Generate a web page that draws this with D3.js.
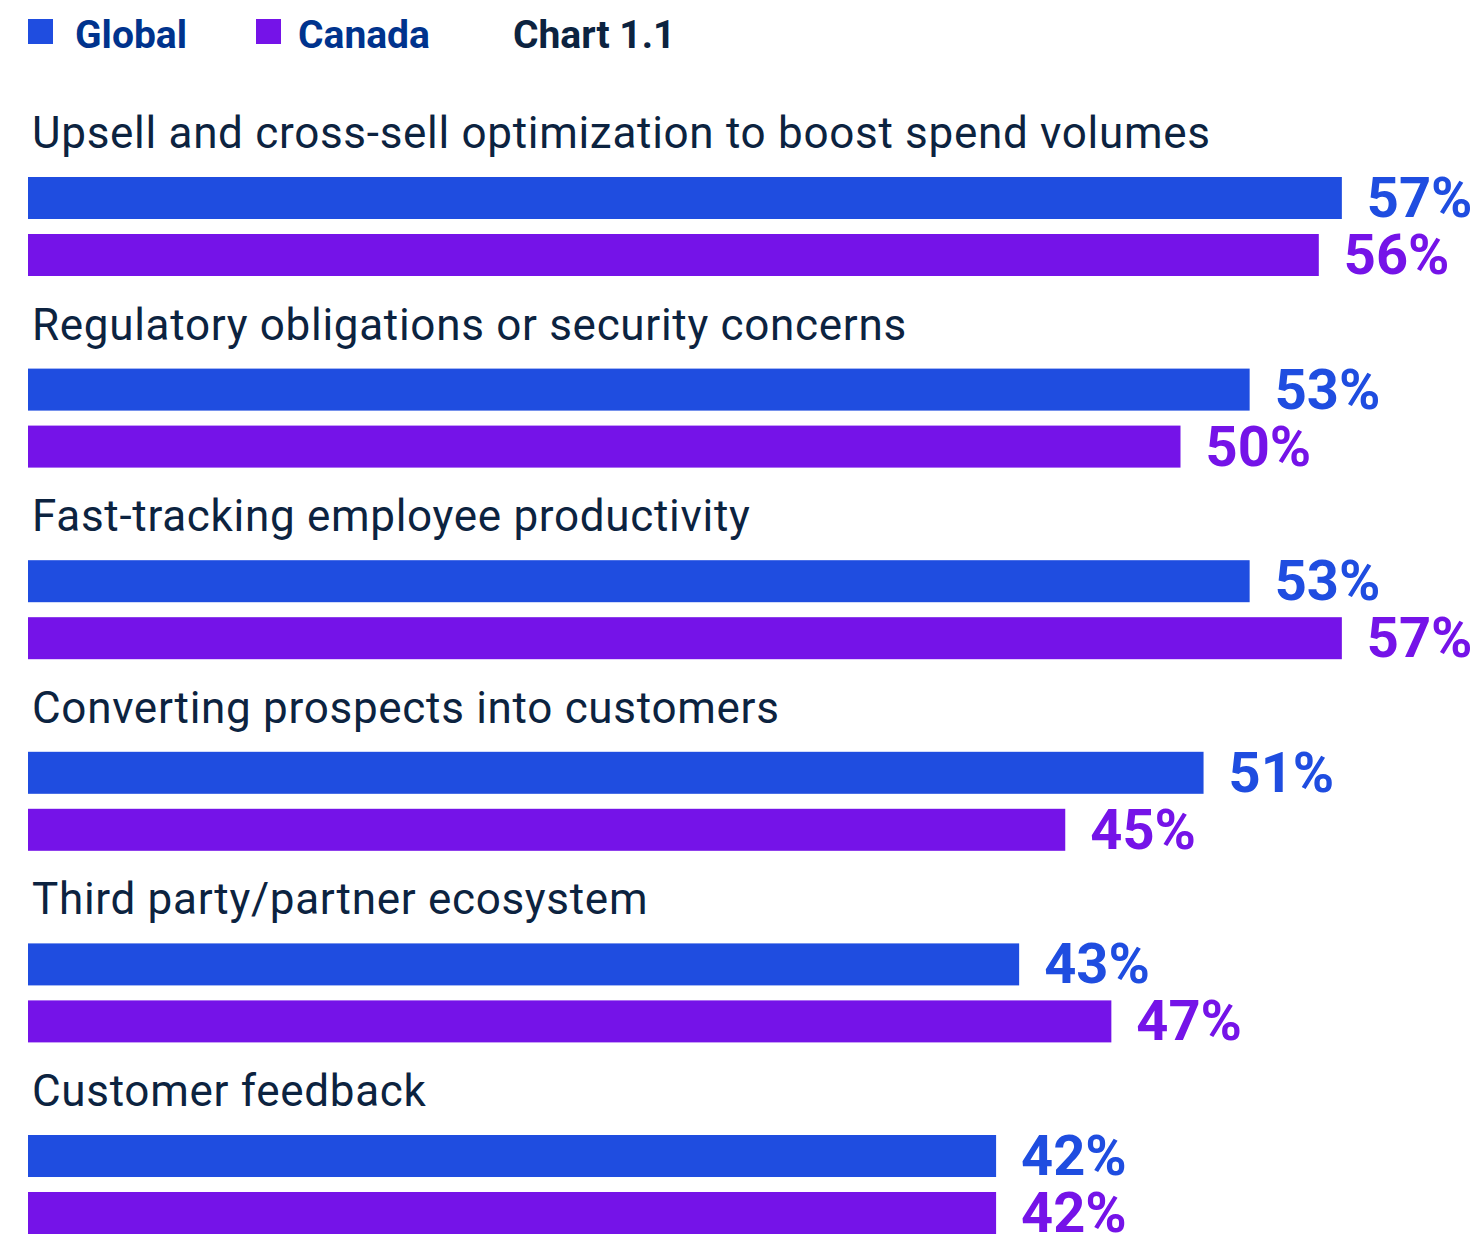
<!DOCTYPE html>
<html>
<head>
<meta charset="utf-8">
<script src="https://cdn.jsdelivr.net/npm/d3@7"></script>
<style>
  html, body { margin: 0; padding: 0; background: #ffffff; }
  svg { display: block; }
</style>
</head>
<body>
<div id="chart"></div>
<script>
// Survey responses: share of respondents per priority, Global vs Canada
const categories = [
  "Upsell and cross-sell optimization to boost spend volumes",
  "Regulatory obligations or security concerns",
  "Fast-tracking employee productivity",
  "Converting prospects into customers",
  "Third party/partner ecosystem",
  "Customer feedback"
];
const seriesNames = ["Global", "Canada"];
const globalValues = [57, 53, 53, 51, 43, 42];
const canadaValues = [56, 50, 57, 45, 47, 42];
const chartTitle = "Chart 1.1";

const W = 1481, H = 1242;
const colors = { Global: "#1f4de0", Canada: "#7513e8" };
const labelColor = "#0c2340";
const legendColor = "#00338d";

const rows = categories.map((c, i) => ({
  category: c,
  values: [
    { series: "Global", value: globalValues[i] },
    { series: "Canada", value: canadaValues[i] }
  ]
}));

const svg = d3.select("#chart").append("svg")
  .attr("width", W).attr("height", H);

// Horizontal value scale
const x = d3.scaleLinear().domain([0, 100]).range([28, 28 + 2305]);

// One band per category, two bars within each band
const y = d3.scaleBand().domain(categories).range([177, 177 + 6 * 191.6]);
const yInner = d3.scaleBand().domain(seriesNames).range([0, 99]).paddingInner(0.263);

// Legend
const legend = svg.append("g").attr("class", "legend");
const legendItems = [
  { name: "Global", sx: 28, tx: 75 },
  { name: "Canada", sx: 256, tx: 298 }
];
legendItems.forEach(d => {
  legend.append("rect")
    .attr("x", d.sx).attr("y", 19).attr("width", 25).attr("height", 25)
    .attr("fill", colors[d.name]);
  legend.append("text")
    .attr("x", d.tx).attr("y", 48)
    .attr("font-family", "Roboto, sans-serif")
    .attr("font-weight", 700).attr("font-size", 39)
    .attr("fill", legendColor)
    .text(d.name);
});
legend.append("text")
  .attr("x", 513).attr("y", 48)
  .attr("font-family", "Roboto, sans-serif")
  .attr("font-weight", 700).attr("font-size", 39)
  .attr("fill", labelColor)
  .text(chartTitle);

// Category groups
const groups = svg.append("g").selectAll("g.group")
  .data(rows).join("g")
  .attr("class", "group")
  .attr("transform", d => `translate(0,${y(d.category)})`);

groups.append("text")
  .attr("class", "category")
  .attr("x", 32).attr("y", -29)
  .attr("font-family", "Roboto, sans-serif")
  .attr("font-size", 44)
  .attr("letter-spacing", 0.7)
  .attr("fill", labelColor)
  .text(d => d.category);

groups.selectAll("rect.bar")
  .data(d => d.values).join("rect")
  .attr("class", "bar")
  .attr("x", x(0))
  .attr("y", d => yInner(d.series))
  .attr("width", d => x(d.value) - x(0))
  .attr("height", yInner.bandwidth())
  .attr("fill", d => colors[d.series]);

groups.selectAll("text.value")
  .data(d => d.values).join("text")
  .attr("class", "value")
  .attr("x", d => x(d.value) + 25)
  .attr("y", d => yInner(d.series) + yInner.bandwidth() / 2 + 19)
  .attr("font-family", "Roboto, sans-serif")
  .attr("font-weight", 700).attr("font-size", 56)
  .attr("fill", d => colors[d.series])
  .text(d => d.value + "%");
</script>
</body>
</html>
